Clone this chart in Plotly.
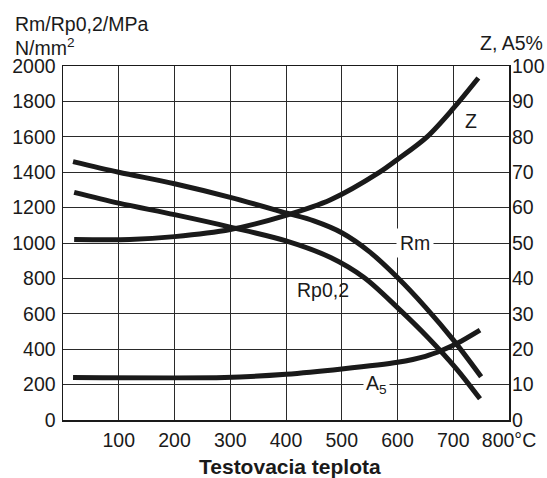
import plotly.graph_objects as go

# Data
rm_temp = [18, 100, 200, 300, 400, 450, 500, 550, 600, 650, 700, 750]
rm_vals = [1460, 1400, 1335, 1258, 1170, 1125, 1058, 950, 805, 638, 453, 245]

rp_temp = [20, 100, 200, 300, 400, 480, 540, 600, 655, 705, 748]
rp_vals = [1286, 1225, 1160, 1090, 1012, 918, 805, 635, 465, 292, 120]

z_temp = [20, 120, 200, 300, 400, 480, 568, 600, 653, 700, 745]
z_vals = [51.0, 51.0, 51.8, 53.8, 57.8, 62.2, 70.0, 73.6, 80.0, 88.0, 96.6]

a5_temp = [18, 290, 400, 500, 600, 650, 680, 710, 748]
a5_vals = [12.0, 12.0, 12.9, 14.4, 16.3, 18.0, 19.7, 21.9, 25.4]

x_ticks = [100, 200, 300, 400, 500, 600, 700, 800]
x_ticktext = ["100", "200", "300", "400", "500", "600", "700", "800°C"]
y_ticks = list(range(0, 2001, 200))
y2_ticks = list(range(0, 101, 10))

FONT = "Liberation Sans, Arial, Helvetica, sans-serif"
INK = "#1a1a1a"
LW = 5
FS = 19.5

fig = go.Figure()
fig.add_trace(go.Scatter(x=rm_temp, y=rm_vals, mode="lines", name="Rm",
                         line=dict(color=INK, width=LW, shape="spline", smoothing=0.9)))
fig.add_trace(go.Scatter(x=rp_temp, y=rp_vals, mode="lines", name="Rp0,2",
                         line=dict(color=INK, width=LW, shape="spline", smoothing=0.9)))
fig.add_trace(go.Scatter(x=z_temp, y=z_vals, mode="lines", name="Z", yaxis="y2",
                         line=dict(color=INK, width=LW, shape="spline", smoothing=0.9)))
fig.add_trace(go.Scatter(x=a5_temp, y=a5_vals, mode="lines", name="A5", yaxis="y2",
                         line=dict(color=INK, width=LW, shape="spline", smoothing=0.7)))

ann_font = dict(family=FONT, size=FS, color=INK)
annotations = [
    dict(x=632, y=1000, xref="x", yref="y", text="Rm", showarrow=False,
         font=ann_font, bgcolor="white", borderpad=3),
    dict(x=466, y=735, xref="x", yref="y", text="Rp0,2", showarrow=False,
         font=ann_font),
    dict(x=562, y=10, xref="x", yref="y2", text="A<sub>5</sub>", showarrow=False,
         font=ann_font, bgcolor="white", borderpad=2),
    dict(x=732, y=84.5, xref="x", yref="y2", text="Z", showarrow=False,
         font=ann_font),
    dict(x=-0.112, y=1.12, xref="paper", yref="paper", text="Rm/Rp0,2/MPa",
         showarrow=False, xanchor="left", yanchor="middle", font=ann_font),
    dict(x=-0.112, y=1.054, xref="paper", yref="paper", text="N/mm<sup>2</sup>",
         showarrow=False, xanchor="left", yanchor="middle", font=ann_font),
    dict(x=1.08, y=1.065, xref="paper", yref="paper", text="Z, A5%",
         showarrow=False, xanchor="right", yanchor="middle", font=ann_font),
    dict(x=0.509, y=-0.13, xref="paper", yref="paper", text="<b>Testovacia teplota</b>",
         showarrow=False, xanchor="center", yanchor="middle",
         font=dict(family=FONT, size=21, color=INK)),
]

fig.update_layout(
    template="none",
    width=547, height=478,
    margin=dict(l=63, r=38, t=66, b=58, autoexpand=False),
    paper_bgcolor="white", plot_bgcolor="white",
    showlegend=False,
    font=dict(family=FONT, size=FS, color=INK),
    annotations=annotations,
    xaxis=dict(range=[0, 800], tickvals=x_ticks, ticktext=x_ticktext,
               showgrid=True, gridcolor="#2a2a2a", gridwidth=1,
               showline=True, linecolor=INK, linewidth=1.5, mirror=True,
               ticks="", zeroline=False, ticklabelstandoff=2, automargin=False),
    yaxis=dict(range=[0, 2000], tickvals=y_ticks,
               showgrid=True, gridcolor="#2a2a2a", gridwidth=1,
               showline=True, linecolor=INK, linewidth=1.5, mirror=True,
               ticks="", zeroline=False, ticklabelstandoff=2, automargin=False),
    yaxis2=dict(range=[0, 100], tickvals=y2_ticks, overlaying="y", side="right",
                showgrid=False, showline=False, ticks="", zeroline=False,
                ticklabelstandoff=2, automargin=False),
)

fig.write_html("out.html",
               config={"displayModeBar": False, "staticPlot": True},
               post_script="document.body.style.margin='0';document.body.style.overflow='hidden';")
